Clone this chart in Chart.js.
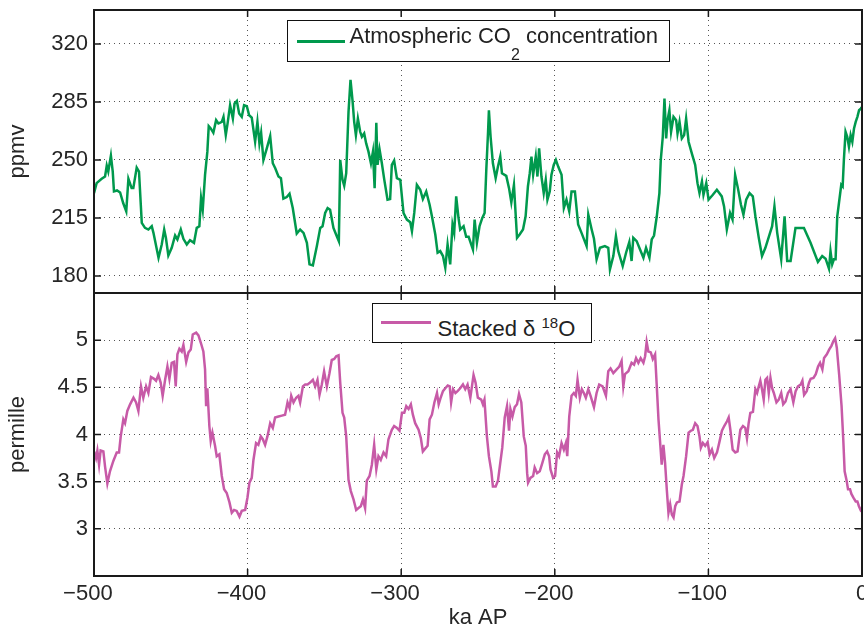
<!DOCTYPE html>
<html>
<head>
<meta charset="utf-8">
<script src="https://cdn.jsdelivr.net/npm/chart.js@4/dist/chart.umd.min.js"></script>
<style>
body { margin: 0; background: #fff; }
#wrap { position: relative; width: 864px; height: 627px; font-family: "Liberation Sans", Arial, sans-serif; color: #262626; }
.panel { position: absolute; left: 0; }
.legend { position: absolute; box-sizing: border-box; background: #fff; border: 1.5px solid #111; z-index: 5; }
.swatch { position: absolute; height: 2.5px; }
.ltxt { position: absolute; font-size: 22px; line-height: 22px; white-space: nowrap; color: #222; }
.ltxt .sb { font-size: 16px; position: relative; top: 17px; }
.ltxt .sp { font-size: 15px; position: relative; top: -8px; }
</style>
</head>
<body>
<div id="wrap">
  <div class="panel" style="top:0"><canvas id="co2_chart" width="864" height="294"></canvas></div>
  <div class="panel" style="top:293px"><canvas id="d18o_chart" width="864" height="334"></canvas></div>
  <div class="legend" style="left:287px;top:20px;width:383px;height:42px">
    <span class="swatch" style="background:#00994d;left:8.5px;top:19px;width:48px"></span>
    <span class="ltxt" style="left:61.5px;top:4px">Atmospheric CO<span class="sb">2</span> concentration</span>
  </div>
  <div class="legend" style="left:372px;top:303px;width:220px;height:40px">
    <span class="swatch" style="background:#c75aa7;left:8px;top:17px;width:50px"></span>
    <span class="ltxt" style="left:64.5px;top:14px">Stacked &delta; <span class="sp">18</span>O</span>
  </div>
</div>
<script>
// Vostok-style CO2 record (ka AP, ppmv)
var co2Age = [
    -500, -498.3, -495, -492.8, -491.7, -490.7, -489, -487.8, -487, -485,
    -483, -481, -479, -477.6, -475.5, -474.4, -472.2, -470.7, -468.9, -466.8,
    -464.6, -462.4, -461.3, -458, -455.9, -454.3, -453.2, -451.6, -449.4, -447.2,
    -445.7, -443.5, -441.8, -439.6, -437.5, -434.9, -433.1, -431.4, -430.3, -429.2,
    -427.7, -426.2, -425.3, -424, -422.3, -420.5, -419, -416.8, -415.7, -414.2,
    -413.1, -411.4, -409.6, -408.5, -407, -405.5, -403.8, -402.3, -400.5, -399,
    -397.3, -395.1, -393.6, -392.3, -391.2, -389.7, -387.5, -385.3, -383.6, -382,
    -379.9, -378.3, -376.7, -374.5, -372.7, -370.6, -368, -365.8, -363.6, -361.4,
    -359.7, -357.5, -354.9, -352.7, -351.2, -349.5, -347.9, -346.3, -344.1, -342.4,
    -340.6, -339.7, -338.2, -337.1, -335.8, -334.3, -333, -331.7, -330.6, -329.5,
    -328.2, -326.7, -325.6, -324.1, -322.8, -321.3, -319.7, -318.4, -317.3, -316.2,
    -315.4, -314.1, -312.6, -311, -308.9, -307.2, -306.1, -304.6, -302.8, -300.6,
    -298.5, -296.3, -294.1, -293, -291.5, -289.8, -287.6, -285.9, -283.7, -281.5,
    -280, -277.8, -276.3, -274.6, -272.8, -271.3, -269.8, -268.1, -266.6, -265.5,
    -264.2, -262.7, -261.6, -259.4, -257.7, -256.1, -253.3, -252.2, -250.7, -249,
    -247.2, -245.7, -244.6, -243.5, -242.9, -241.8, -240.3, -238.5, -237, -235.5,
    -234.4, -231.6, -229.8, -228.3, -226.6, -224.6, -222.9, -220.7, -219, -217.5,
    -216.3, -215.2, -214.1, -212.4, -211.3, -210.2, -208.7, -207.2, -205.9, -204.8,
    -203.3, -202.2, -200.7, -199.3, -197.8, -195.6, -194.1, -192.4, -190.6, -189.1,
    -186.9, -184.8, -182.6, -179.3, -178.2, -176, -174.5, -172.8, -170.6, -167.4,
    -165.2, -164.1, -161.9, -160.2, -158.7, -155.8, -153.6, -151.5, -150, -148.9,
    -146.7, -144.5, -142.3, -140.6, -138.4, -136.9, -135.4, -133.6, -131.9, -131,
    -129.7, -128.6, -127.5, -126.6, -125.4, -124.3, -122.7, -121, -120.1, -118.8,
    -117.3, -115.8, -114.5, -112.9, -110.8, -108.6, -107.1, -105.8, -104.2, -103.2,
    -101.4, -99.9, -97.1, -94.5, -91.3, -89.8, -88, -85.9, -84.3, -82.6,
    -80.8, -78.8, -77.2, -75.4, -73.2, -71.1, -69.4, -67.2, -65.1, -62.9,
    -58.5, -57, -55.2, -52.6, -50.4, -48.7, -46.5, -43.3, -37.8, -33.5,
    -28.7, -25.9, -23.7, -21.5, -20.5, -19.4, -18.3, -17.2, -16.1, -15,
    -13.5, -12.6, -11.8, -10.7, -9.6, -8.5, -7.4, -6.3, -5.2, -4.1,
    -3, -1.9, -0.8, 0
]
var co2Ppmv = [
    230, 236, 238.6, 240, 246.6, 243, 252.6, 243, 231, 231.6,
    230.4, 224, 219, 238.6, 233, 233, 245.4, 243, 212, 209,
    208, 210, 206, 191, 199, 208, 203, 192.4, 197, 204.4,
    202, 208, 202.4, 199, 201.6, 200, 209, 210, 227, 220,
    241, 255, 270.4, 269, 266.4, 274, 272, 273, 276, 265,
    271.6, 283, 275, 284, 285.6, 278, 276, 283, 282.4, 277,
    275.6, 261, 273, 260, 266.4, 250, 257, 264.4, 248, 245,
    240, 239, 226.6, 227.6, 229.6, 221, 205.6, 208, 206, 200,
    187, 186.4, 198, 209, 210, 218, 221, 220, 209, 205,
    201, 250, 238, 234.4, 242, 279, 298.4, 286, 273, 265,
    275, 267, 264, 266, 260, 255, 248, 255, 233, 272.4,
    247, 256.4, 248, 238, 226, 226.4, 247, 249.6, 239, 238,
    218, 214, 212.4, 207, 218, 235, 232, 226.4, 231, 223,
    216, 205, 194, 195, 192, 185, 199, 187, 211, 206,
    228, 215, 208, 210, 203.6, 203.6, 196, 214, 200, 210,
    215, 218, 244, 266, 280, 264, 248, 239, 246, 252,
    242, 240.4, 233, 224.4, 235, 203, 205, 208, 216, 234,
    242, 252, 241, 252, 240, 257, 240, 230, 238, 226,
    231, 241, 247, 250, 246, 241, 221, 226, 219, 231,
    231, 211, 206, 198, 217, 208, 202.4, 190, 197, 198,
    197, 184, 192, 204, 195, 186, 194, 200.4, 189, 203,
    201, 196, 191, 197, 191, 202, 204.4, 216, 230, 250,
    264, 287, 263, 274, 280, 267, 276, 274, 266, 273,
    263, 265, 275, 261, 254, 247, 236, 230, 237, 229,
    236, 226, 229, 232, 228, 222, 208, 218, 214, 241,
    233, 223, 217, 226, 230, 228, 216, 203, 192, 197,
    210, 222, 206, 190, 216, 189, 189, 209, 209, 200,
    188.4, 192, 190.4, 184.4, 195, 187, 190, 190, 216, 224,
    235, 234, 250, 267, 264, 258, 265, 261, 269, 273,
    276, 280, 281, 282
]

// stacked benthic d18O (ka AP, permille)
var d18oAge = [
    -500, -498.7, -497.8, -496.7, -495.7, -493.9, -492.8, -491.3, -489.6, -487.4,
    -485.2, -483.7, -482.6, -480.9, -479.8, -478.3, -476.5, -474.3, -472.6, -471.1,
    -469.4, -467.9, -466.1, -464.6, -462.9, -460.9, -459.6, -458.1, -456.6, -455.3,
    -453.7, -452.2, -450.9, -449.4, -447.9, -446.8, -445.7, -444.4, -442.9, -441.8,
    -440, -438.5, -437, -435.7, -433.5, -432, -430.4, -428.8, -427.7, -427,
    -426.2, -424.9, -424, -422.9, -421.2, -420.1, -418.4, -416.8, -415.3, -413.6,
    -411.8, -410.3, -408.8, -407.1, -405.3, -403.8, -401.6, -400.1, -398.8, -397.3,
    -396.2, -394.5, -393, -391.4, -390.1, -388.6, -387.1, -385.3, -383.6, -382.1,
    -379.9, -377.7, -375.6, -374, -372.7, -371.6, -370.1, -368.4, -366.9, -365.8,
    -364, -362.5, -361, -359.3, -357.5, -356, -354.5, -353.2, -351.7, -350.2,
    -348.4, -346.7, -345.2, -343.6, -342.3, -340.8, -339.7, -338.2, -337.1, -335.8,
    -334.3, -332.8, -331, -329.3, -327.8, -326.3, -324.9, -323.5, -322.4, -320.6,
    -319.1, -317.6, -316.2, -314.8, -313.3, -311.5, -309.8, -308.3, -306.1, -304.6,
    -302.8, -301.1, -299.5, -298, -296.7, -295.2, -293.7, -292.4, -290.9, -288.7,
    -287.2, -285.9, -284.4, -282.8, -281.5, -280, -278.4, -276.7, -275.6, -274.5,
    -272.8, -271.3, -269.7, -268.4, -267.5, -266.2, -264.7, -263.3, -261.6, -259.8,
    -258.3, -256.8, -255, -252.9, -251.6, -250.1, -247.9, -246.8, -245.8, -244.2,
    -242.9, -241.3, -240.3, -238.5, -237, -235.5, -234.2, -232.6, -231.1, -229.8,
    -228.9, -227.6, -226.1, -224.6, -223.3, -221.8, -220.2, -218.9, -218, -217.4,
    -215.9, -214.1, -213.1, -211.5, -209.8, -208.1, -206.5, -205, -203.7, -202.8,
    -201.1, -199.8, -198.5, -197.2, -195.6, -194.1, -192.8, -191.9, -190.6, -189.1,
    -187.6, -186.3, -185.2, -183.7, -182.4, -181.1, -179.8, -178.2, -176.7, -174.5,
    -172.8, -171.1, -168.9, -166.7, -165.2, -163.7, -161.9, -159.7, -158, -156.5,
    -155.4, -154.3, -152.1, -150, -148.4, -147.1, -145.6, -144.1, -142.3, -141.2,
    -140.2, -139.1, -137.5, -136.2, -134.7, -133.6, -132.5, -131.4, -130.4, -129.3,
    -128.2, -127.1, -126, -124.9, -123.8, -122.7, -121.6, -120.5, -118.8, -117.3,
    -116.2, -114.5, -112.9, -111.4, -110.1, -108.6, -107.1, -105.8, -104.9, -103.6,
    -102.1, -100.5, -99.2, -97.7, -96.2, -94.4, -92.7, -91.2, -89.7, -87.9,
    -86.8, -85.7, -84.2, -82.5, -81, -79.2, -77.5, -76, -74.9, -73.8,
    -72.7, -71, -69.4, -68.3, -67.2, -66.2, -65.1, -64, -62.9, -61.8,
    -60.7, -59.6, -58.5, -57.4, -55.7, -54.2, -52.6, -51.3, -49.8, -48.2,
    -46.5, -44.7, -43.2, -41.7, -39.9, -38.8, -37.7, -36, -34.5, -33.4,
    -31.6, -30.1, -28.6, -27.3, -25.8, -24.7, -22.9, -21.4, -19.9, -18.6,
    -17.5, -16.4, -14.9, -13.3, -12.2, -11.3, -10, -9.1, -7.8, -6.9,
    -5.6, -4.1, -3, -2, -0.9, 0
]
var d18oVal = [
    3.82, 3.75, 3.83, 3.68, 3.83, 3.82, 3.66, 3.48, 3.61, 3.72,
    3.81, 3.81, 3.98, 4.16, 4.12, 4.25, 4.32, 4.39, 4.34, 4.25,
    4.51, 4.39, 4.51, 4.44, 4.61, 4.59, 4.57, 4.63, 4.55, 4.41,
    4.58, 4.72, 4.59, 4.76, 4.77, 4.51, 4.85, 4.91, 4.88, 4.95,
    4.77, 4.87, 4.90, 5.06, 5.08, 5.05, 4.97, 4.88, 4.69, 4.30,
    4.49, 4.09, 3.93, 4.02, 3.88, 3.77, 3.79, 3.56, 3.42, 3.38,
    3.28, 3.17, 3.20, 3.19, 3.13, 3.19, 3.20, 3.33, 3.49, 3.54,
    3.73, 3.91, 3.89, 3.98, 3.95, 3.89, 3.98, 4.12, 4.07, 4.18,
    4.19, 4.20, 4.21, 4.34, 4.28, 4.41, 4.34, 4.39, 4.41, 4.34,
    4.51, 4.53, 4.53, 4.55, 4.58, 4.51, 4.58, 4.42, 4.53, 4.67,
    4.51, 4.65, 4.79, 4.80, 4.83, 4.84, 4.55, 4.23, 4.18, 3.98,
    3.52, 3.40, 3.31, 3.20, 3.22, 3.24, 3.31, 3.22, 3.51, 3.56,
    3.68, 3.89, 3.63, 3.77, 3.73, 3.81, 3.77, 3.95, 4.05, 4.09,
    4.07, 4.04, 4.23, 4.23, 4.30, 4.27, 4.32, 4.21, 4.12, 4.05,
    3.96, 3.82, 3.85, 3.88, 4.16, 4.21, 4.34, 4.44, 4.32, 4.38,
    4.46, 4.49, 4.52, 4.51, 4.34, 4.48, 4.44, 4.46, 4.49, 4.53,
    4.48, 4.53, 4.39, 4.63, 4.55, 4.39, 4.37, 4.32, 4.37, 3.98,
    3.77, 3.61, 3.45, 3.45, 3.51, 3.70, 3.86, 4.18, 4.30, 4.04,
    4.27, 4.19, 4.29, 4.32, 4.43, 4.34, 3.98, 3.88, 3.59, 3.49,
    3.54, 3.56, 3.65, 3.59, 3.61, 3.70, 3.79, 3.82, 3.77, 3.63,
    3.54, 3.56, 3.81, 3.77, 3.91, 3.84, 3.91, 3.77, 4.19, 4.41,
    4.44, 4.41, 4.58, 4.39, 4.48, 4.44, 4.39, 4.48, 4.41, 4.29,
    4.44, 4.53, 4.51, 4.41, 4.67, 4.70, 4.65, 4.69, 4.72, 4.78,
    4.51, 4.64, 4.67, 4.76, 4.74, 4.81, 4.76, 4.81, 4.76, 4.83,
    4.98, 4.88, 4.87, 4.80, 4.85, 4.51, 4.16, 3.91, 3.68, 3.89,
    3.70, 3.42, 3.17, 3.26, 3.15, 3.12, 3.24, 3.28, 3.29, 3.47,
    3.56, 3.77, 4.02, 4.04, 4.05, 4.12, 4.09, 3.98, 3.86, 3.91,
    3.88, 3.92, 3.79, 3.84, 3.75, 3.81, 3.93, 4.04, 4.09, 4.14,
    4.18, 4.05, 3.84, 3.81, 3.82, 4.05, 4.09, 4.07, 3.96, 4.12,
    4.23, 4.24, 4.48, 4.44, 4.51, 4.57, 4.48, 4.37, 4.58, 4.60,
    4.44, 4.60, 4.49, 4.44, 4.34, 4.37, 4.44, 4.32, 4.35, 4.44,
    4.48, 4.34, 4.46, 4.51, 4.53, 4.57, 4.42, 4.46, 4.55, 4.59,
    4.60, 4.64, 4.72, 4.76, 4.69, 4.81, 4.85, 4.90, 4.94, 4.99,
    5.02, 4.92, 4.64, 4.30, 3.95, 3.61, 3.51, 3.42, 3.42, 3.37,
    3.33, 3.29, 3.29, 3.24, 3.20, 3.22
]

var co2Ticks = [180, 215, 250, 285, 320]
var d18oTicks = [3, 3.5, 4, 4.5, 5]

var axisFont = { family: '"Liberation Sans", Arial, sans-serif', size: 22 }
var inkColor = '#262626'

// MATLAB style box with inward tick marks
var boxPlugin = {
    id: 'box',
    afterDraw: function (chart) {
        var ctx = chart.ctx
        var a = chart.chartArea
        var sx = chart.scales.x
        var sy = chart.scales.y
        ctx.save()
        ctx.setLineDash([])
        ctx.strokeStyle = '#1a1a1a'
        ctx.lineWidth = 1.5
        ctx.beginPath()
        sx.ticks.forEach(function (t) {
            var px = sx.getPixelForValue(t.value)
            ctx.moveTo(px, a.top); ctx.lineTo(px, a.top + 7)
            ctx.moveTo(px, a.bottom); ctx.lineTo(px, a.bottom - 7)
        })
        sy.ticks.forEach(function (t) {
            var py = sy.getPixelForValue(t.value)
            ctx.moveTo(a.left, py); ctx.lineTo(a.left + 7, py)
            ctx.moveTo(a.right, py); ctx.lineTo(a.right - 7, py)
        })
        ctx.stroke()
        ctx.lineWidth = 2
        ctx.strokeRect(a.left, a.top, a.right - a.left, a.bottom - a.top)
        ctx.restore()
    }
}

function toPoints(xs, ys) {
    return xs.map(function (x, i) { return { x: x, y: ys[i] } })
}

function gridOpts() {
    return { color: '#555', lineWidth: 1, drawTicks: false }
}

function drawPanel(id, opts) {
    var ctx = document.getElementById(id).getContext('2d')
    return new Chart(ctx, {
        type: 'line',
        data: {
            datasets: [{
                label: opts.label,
                data: toPoints(opts.xs, opts.ys),
                borderColor: opts.color,
                borderWidth: 2.5,
                pointRadius: 0,
                tension: 0,
                fill: false
            }]
        },
        options: {
            responsive: false,
            animation: false,
            layout: { padding: opts.padding },
            plugins: { legend: { display: false }, tooltip: { enabled: false } },
            scales: {
                x: {
                    type: 'linear',
                    min: -500,
                    max: 0,
                    ticks: {
                        display: opts.showX,
                        stepSize: 100,
                        color: inkColor,
                        font: axisFont,
                        padding: 5,
                        maxRotation: 0,
                        autoSkip: false,
                        // matlab centres the digits, the minus hangs to the left
                        callback: function (v) { return v < 0 ? '\u2212' + Math.abs(v) + '\u2007' : String(v) }
                    },
                    grid: gridOpts(),
                    border: { display: false, dash: [1, 4] },
                    title: {
                        display: opts.showX,
                        text: 'ka AP',
                        color: inkColor,
                        font: axisFont,
                        padding: { top: 0, bottom: -4 }
                    },
                    afterFit: function (s) {
                        s.height = opts.showX ? 51 : 0
                        s.paddingLeft = 0
                        s.paddingRight = 0
                    }
                },
                y: {
                    min: opts.yMin,
                    max: opts.yMax,
                    ticks: {
                        color: inkColor,
                        font: axisFont,
                        padding: 6,
                        callback: function (v) { return String(v) }
                    },
                    grid: gridOpts(),
                    border: { display: false, dash: [1, 4] },
                    title: {
                        display: true,
                        text: opts.yTitle,
                        color: inkColor,
                        font: axisFont,
                        padding: { top: 5, bottom: 0 }
                    },
                    afterBuildTicks: function (s) {
                        s.ticks = opts.yTicks.map(function (v) { return { value: v } })
                    },
                    afterFit: function (s) {
                        s.width = 94
                        s.paddingTop = 0
                        s.paddingBottom = 0
                    }
                }
            }
        },
        plugins: [boxPlugin]
    })
}

drawPanel('co2_chart', {
    label: 'Atmospheric CO2 concentration',
    xs: co2Age, ys: co2Ppmv,
    color: '#00994d',
    yMin: 169.7, yMax: 340.5,
    yTicks: co2Ticks,
    yTitle: 'ppmv',
    showX: false,
    padding: { top: 10, right: 2, bottom: 1, left: 0 }
})

drawPanel('d18o_chart', {
    label: 'Stacked \u03b4 18O',
    xs: d18oAge, ys: d18oVal,
    color: '#c75aa7',
    yMin: 2.5, yMax: 5.5,
    yTicks: d18oTicks,
    yTitle: 'permille',
    showX: true,
    padding: { top: 0, right: 2, bottom: 0, left: 0 }
})
</script>
</body>
</html>
